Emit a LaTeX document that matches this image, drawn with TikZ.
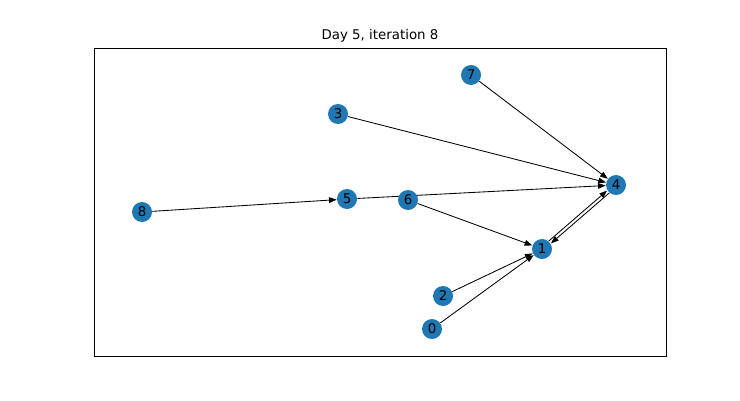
\documentclass[tikz,border=0pt]{standalone}
\usepackage{fontspec}
\setmainfont{DejaVu Sans}
\usetikzlibrary{arrows.meta,backgrounds}
\definecolor{nodeblue}{HTML}{1F77B4}
\tikzset{
  vertex/.style={circle, fill=nodeblue, inner sep=0pt, minimum size=0.5cm, font=\fontsize{9.5}{11}\selectfont},
  edge/.style={-{Triangle[length=5.5pt,width=4pt]}, line width=0.6pt, black}
}
\begin{document}
\begin{tikzpicture}[x=0.025cm,y=-0.025cm]
        \useasboundingbox (0,0) rectangle (740,400);
        % frame and title
        \draw [line width=0.6pt] (94,48) rectangle (666,356);
        \node (title) at (380,36) {\fontsize{9.5}{11}\selectfont Day 5, iteration 8};

        \node [vertex] (n0) at (432,329) {0};
        \node [vertex] (n1) at (542,249) {1};
        \node [vertex] (n2) at (443,296) {2};
        \node [vertex] (n3) at (338,114) {3};
        \node [vertex] (n4) at (616,185) {4};
        \node [vertex] (n5) at (347,199) {5};
        \node [vertex] (n6) at (408,200) {6};
        \node [vertex] (n7) at (471,75) {7};
        \node [vertex] (n8) at (142,212) {8};

        \begin{scope}[on background layer]
        \draw [edge] (n7) -- (n4);
        \draw [edge] (n3) -- (n4);
        \draw [edge] (n8) -- (n5);
        \draw [edge] (n5) -- (n4);
        \draw [edge] (n6) -- (n1);
        \draw [edge] (n2) -- (n1);
        \draw [edge] (n0) -- (n1);
        \draw [edge, transform canvas={shift={(-0.8pt,0.8pt)}}] (n1) -- (n4);
        \draw [edge, transform canvas={shift={(0.8pt,-0.8pt)}}] (n4) -- (n1);
        \end{scope}
    \end{tikzpicture}
\end{document}
